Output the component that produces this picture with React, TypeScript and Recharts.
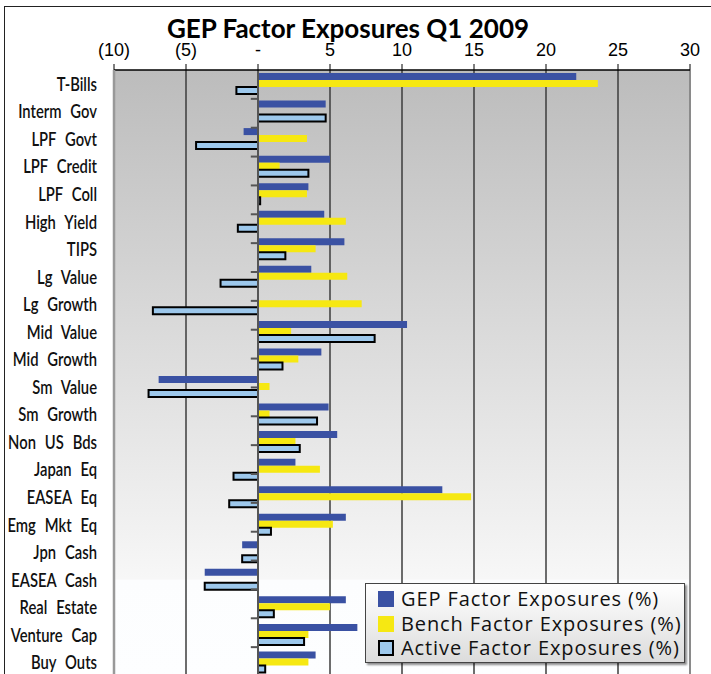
import { Bar, BarChart, CartesianGrid, ReferenceLine, XAxis, YAxis } from "recharts";

const categories = [
  "T-Bills", "Interm Gov", "LPF Govt", "LPF Credit", "LPF Coll", "High Yield",
  "TIPS", "Lg Value", "Lg Growth", "Mid Value", "Mid Growth", "Sm Value",
  "Sm Growth", "Non US Bds", "Japan Eq", "EASEA Eq", "Emg Mkt Eq", "Jpn Cash",
  "EASEA Cash", "Real Estate", "Venture Cap", "Buy Outs",
];
const gep = [22.1, 4.7, -1.0, 5.0, 3.5, 4.6, 6.0, 3.7, 0, 10.35, 4.4, -6.9, 4.9, 5.5, 2.6, 12.8, 6.1, -1.1, -3.7, 6.1, 6.9, 4.0];
const bench = [23.6, 0, 3.4, 1.5, 3.4, 6.1, 4.0, 6.2, 7.2, 2.3, 2.8, 0.8, 0.8, 2.6, 4.3, 14.8, 5.2, 0, 0, 5.0, 3.5, 3.5];
const active = [-1.5, 4.7, -4.3, 3.5, 0.15, -1.4, 1.9, -2.6, -7.3, 8.1, 1.7, -7.6, 4.1, 2.9, -1.7, -2.0, 0.9, -1.1, -3.7, 1.1, 3.2, 0.5];
const xTicks = [-10, -5, 0, 5, 10, 15, 20, 25, 30];

const series = [
  { key: "gep", name: "GEP Factor Exposures (%)", fill: "#3a51a3" },
  { key: "bench", name: "Bench Factor Exposures (%)", fill: "#f6e812" },
  { key: "active", name: "Active Factor Exposures (%)", fill: "#9dc8ec", stroke: "#000" },
];

const data = categories.map((name, i) => ({
  name,
  gep: gep[i],
  bench: bench[i],
  active: active[i],
}));

// separators between categories, drawn as small ticks on the zero axis
const bounds = categories.slice(1).map((_, i) => i + 1);

const fmtX = (v: number) => (v < 0 ? `(${-v})` : v === 0 ? "-" : `${v}`);

// Gill Sans is not around: Lato squeezed horizontally comes close
function CatTick({ x, y, payload }: any) {
  return (
    <text
      transform={`translate(${x},${y}) scale(0.74,1)`}
      x={0}
      y={0}
      dy={7}
      textAnchor="end"
      fontFamily="Lato, 'Open Sans', sans-serif"
      fontWeight={600}
      fontSize={20}
      fill="#111"
      style={{ wordSpacing: 7 }}
    >
      {payload.value}
    </text>
  );
}

export default function App() {
  return (
    <div
      style={{
        position: "absolute",
        left: 0,
        top: 0,
        width: 711,
        height: 674,
        overflow: "hidden",
        background: "#fff",
      }}
    >
      <div
        style={{
          position: "absolute",
          left: 4,
          top: 6,
          width: 760,
          height: 760,
          borderLeft: "1px solid #222",
          borderTop: "1px solid #222",
        }}
      />
      <div
        style={{
          position: "absolute",
          left: 0,
          top: 18,
          width: 696,
          textAlign: "center",
          fontFamily: "Lato, 'Open Sans', sans-serif",
          fontWeight: 700,
          fontSize: 26,
          lineHeight: "20px",
          color: "#000",
        }}
      >
        GEP Factor Exposures Q1 2009
      </div>
      <div style={{ position: "absolute", left: 0, top: 0 }}>
        <BarChart
          width={711}
          height={690}
          data={data}
          layout="vertical"
          barGap={0}
          margin={{ top: 30, right: 21, bottom: 14, left: 0 }}
        >
          <defs>
            <linearGradient id="plotBg" x1="0" y1="0" x2="0" y2="1">
              <stop offset="0" stopColor="#bcbcbc" />
              <stop offset="0.84" stopColor="#f7f7f7" />
              <stop offset="0.842" stopColor="#fcfdfe" />
              <stop offset="1" stopColor="#fdfeff" />
            </linearGradient>
          </defs>
          <CartesianGrid
            yAxisId="cat"
            horizontal={false}
            stroke="#3d3d3d"
            strokeWidth={1.5}
            fill="url(#plotBg)"
            fillOpacity={1}
          />
          <XAxis
            type="number"
            orientation="top"
            domain={[-10, 30]}
            ticks={xTicks}
            tickFormatter={fmtX}
            height={40}
            tickSize={6}
            tickMargin={8}
            axisLine={{ stroke: "#000", strokeWidth: 1.5 }}
            tickLine={{ stroke: "#000" }}
            tick={{ fontSize: 18, fill: "#000", fontFamily: "'Liberation Sans', Arial, sans-serif" }}
          />
          <YAxis
            yAxisId="cat"
            type="category"
            dataKey="name"
            width={114}
            interval={0}
            tickLine={false}
            tickSize={17}
            tickMargin={0}
            axisLine={{ stroke: "#999", strokeWidth: 2.5 }}
            tick={<CatTick />}
          />
          <YAxis yAxisId="n" type="number" domain={[0, 22]} hide />
          <ReferenceLine yAxisId="cat" x={30} stroke="#8a8a8a" strokeWidth={2} />
          {series.map((s) => (
            <Bar
              key={s.key}
              yAxisId="cat"
              dataKey={s.key}
              name={s.name}
              fill={s.fill}
              stroke={s.stroke}
              strokeWidth={s.stroke ? 2 : 0}
              barSize={7}
              isAnimationActive={false}
            />
          ))}
          <ReferenceLine yAxisId="cat" x={0} stroke="#555" strokeWidth={2} />
          {bounds.map((b) => (
            <ReferenceLine
              key={b}
              yAxisId="n"
              segment={[
                { x: -0.5, y: b },
                { x: 0, y: b },
              ]}
              stroke="#555"
              strokeWidth={2}
            />
          ))}
        </BarChart>
      </div>
      <div
        style={{
          position: "absolute",
          left: 365,
          top: 583,
          width: 320,
          height: 80,
          border: "1px solid #444",
          background: "linear-gradient(#ffffff, #dcdcdc)",
          boxShadow: "2px 2px 2px rgba(0,0,0,0.45)",
          fontFamily: "'Open Sans', Lato, sans-serif",
          fontSize: 20,
          letterSpacing: 0.9,
          color: "#111",
          paddingTop: 3,
          boxSizing: "border-box",
        }}
      >
        {series.map((s) => (
          <div
            key={s.key}
            style={{ display: "flex", alignItems: "center", height: 24.5, paddingLeft: 12 }}
          >
            <span
              style={{
                display: "inline-block",
                width: 16,
                height: 16,
                background: s.fill,
                border: s.stroke ? `2px solid ${s.stroke}` : "none",
                boxSizing: "border-box",
                marginRight: 7,
              }}
            />
            <span style={{ lineHeight: "24px" }}>{s.name}</span>
          </div>
        ))}
      </div>
    </div>
  );
}
